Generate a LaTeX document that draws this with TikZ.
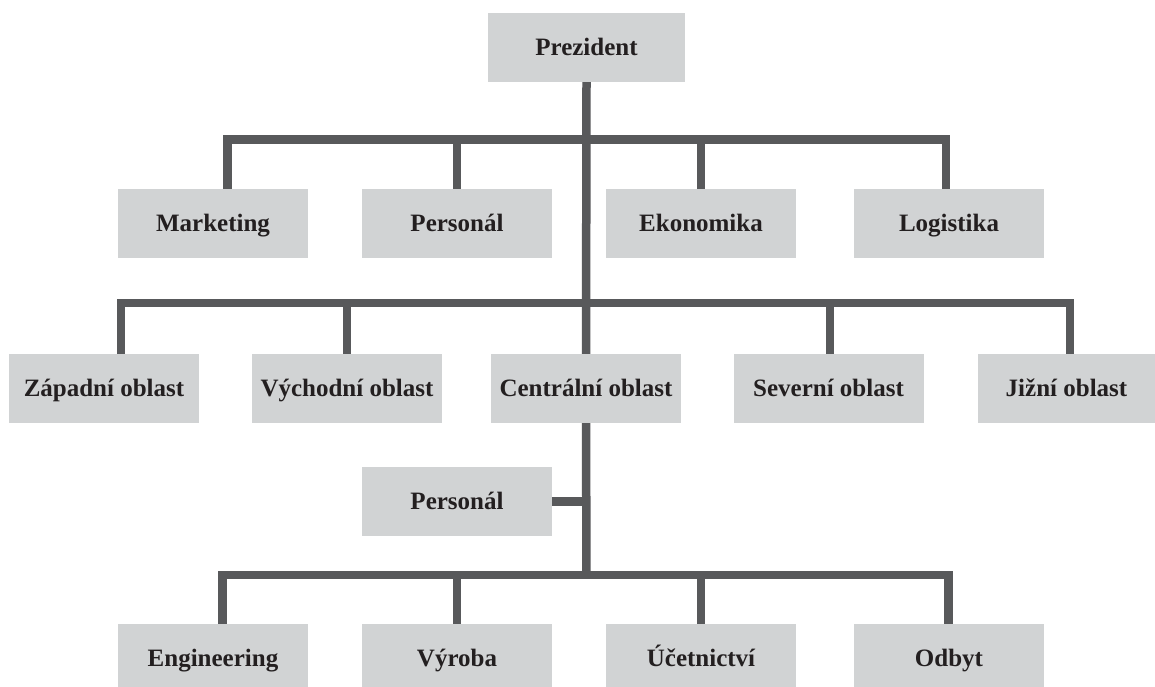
\documentclass[tikz,border=0pt]{standalone}
\usepackage{fontspec}
\setmainfont{Liberation Serif}
\definecolor{boxgray}{HTML}{D1D3D4}
\definecolor{linegray}{HTML}{58595B}
\definecolor{ink}{HTML}{231F20}
\tikzset{
  unit/.style={fill=boxgray, draw=none, inner sep=0pt, minimum width=190pt, minimum height=69pt,
    text height=16.5pt, text depth=0pt, font=\fontsize{25}{28}\selectfont\bfseries, text=ink},
  conn/.style={draw=linegray, line width=8.5pt, line join=miter, line cap=butt}
}
\begin{document}
\begin{tikzpicture}[x=1pt,y=-1pt]
\clip (0,0) rectangle (1155,686);
\fill[white] (0,0) rectangle (1155,686);
% nodes
\node[unit, minimum width=197pt] (pres) at (586.5,47.5) {Prezident};
\node[unit] (mkt) at (213,223.5) {Marketing};
\node[unit] (per1) at (457,223.5) {Personál};
\node[unit] (eko) at (701,223.5) {Ekonomika};
\node[unit] (log) at (949,223.5) {Logistika};
\node[unit] (zap) at (104,388.5) {Západní oblast};
\node[unit] (vych) at (347,388.5) {Východní oblast};
\node[unit] (cen) at (586,388.5) {Centrální oblast};
\node[unit] (sev) at (828.5,388.5) {Severní oblast};
\node[unit, minimum width=177pt] (jiz) at (1066.5,388.5) {Jižní oblast};
\node[unit] (per2) at (457,501.5) {Personál};
\node[unit] (eng) at (213,658.5) {Engineering};
\node[unit] (vyr) at (457,658.5) {Výroba};
\node[unit] (uce) at (701,658.5) {Účetnictví};
\node[unit] (odb) at (949,658.5) {Odbyt};
% junction coordinates on the trunk
\coordinate (j1) at (586.5,139.5);
\coordinate (j2) at (586.5,303);
\coordinate (j3) at (586.5,575);
% trunk
\draw[conn] (pres.south) -- (cen.north);
\draw[conn] (cen.south) -- (j3);
% first bus
\draw[conn] ([xshift=14.5pt]mkt.north) |- ([xshift=-3pt]log.north |- j1) -- ([xshift=-3pt]log.north);
\draw[conn] (per1.north) -- (per1.north |- j1);
\draw[conn] (eko.north) -- (eko.north |- j1);
% second bus
\draw[conn] ([xshift=17pt]zap.north) |- ([xshift=3.5pt]jiz.north |- j2) -- ([xshift=3.5pt]jiz.north);
\draw[conn] (vych.north) -- (vych.north |- j2);
\draw[conn] ([xshift=1.5pt]sev.north) -- ([xshift=1.5pt]sev.north |- j2);
% personal stub
\draw[conn] (per2.east) -- (per2.east -| j3);
% bottom bus
\draw[conn] ([xshift=9.5pt]eng.north) |- ([xshift=-0.5pt]odb.north |- j3) -- ([xshift=-0.5pt]odb.north);
\draw[conn] (vyr.north) -- (vyr.north |- j3);
\draw[conn] (uce.north) -- (uce.north |- j3);
\end{tikzpicture}
\end{document}
